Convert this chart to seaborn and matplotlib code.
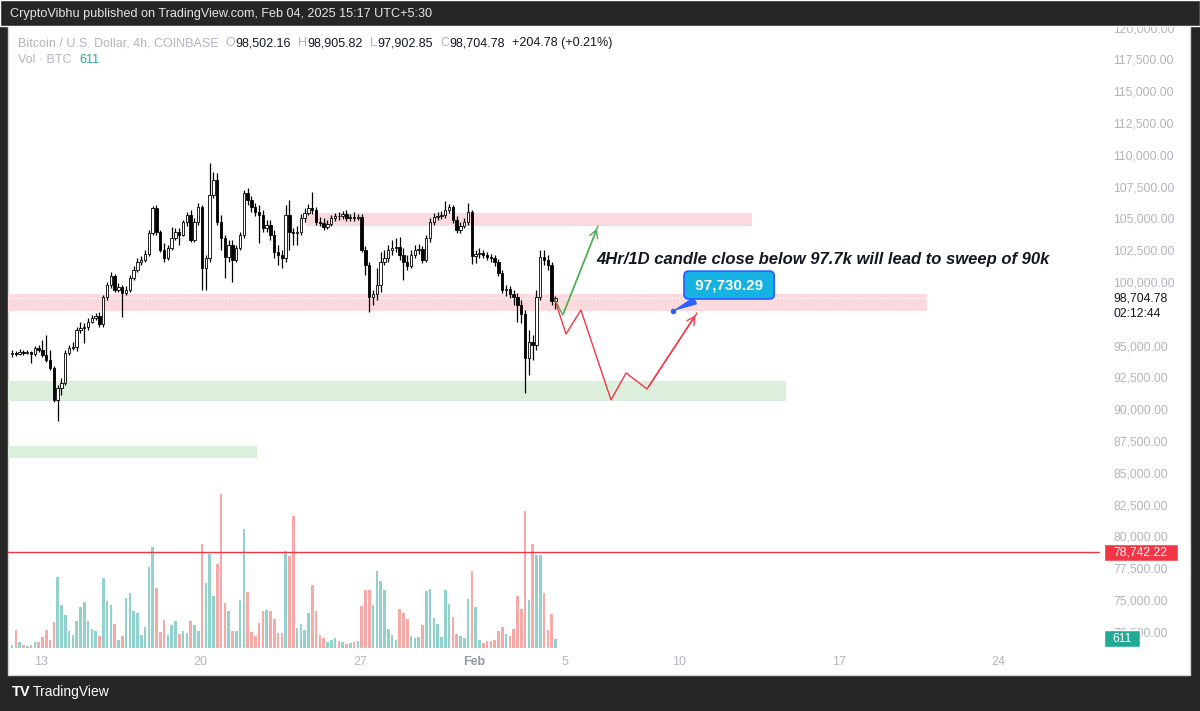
import numpy as np
import pandas as pd
import matplotlib
matplotlib.use("Agg")
import matplotlib.pyplot as plt
import matplotlib.dates as mdates
from matplotlib.patches import Rectangle
from matplotlib.ticker import FixedLocator, FuncFormatter
import seaborn as sns

# BTC/USD 4h candles on Coinbase, times shown in UTC+5:30
first_time = "2025-01-11 17:30"
first_open = 94340
closes = [
    94420, 94340, 94500, 94420, 94500, 94340, 94810, 94660, 94260, 93870,
    93240, 90730, 91670, 92060, 94420, 94810, 94890, 96230, 96380, 96460,
    96860, 97170, 97330, 96700, 98820, 99760, 100470, 99370, 99610, 99140,
    99370, 100310, 100940, 101570, 101730, 102200, 103850, 105820, 103930, 102520,
    101890, 102670, 103460, 103930, 103690, 104720, 105270, 103300, 104720, 105900,
    101100, 101890, 106840, 108020, 104720, 103460, 101970, 102910, 101730, 102670,
    103690, 106990, 106450, 105900, 105500, 105270, 104240, 104480, 103690, 102360,
    102120, 101890, 105270, 103930, 103850, 103930, 105030, 105420, 105820, 105660,
    104720, 104650, 104320, 104560, 105030, 105190, 105150, 105340, 105030, 105110,
    105030, 105110, 102520, 101340, 98820, 99060, 99760, 101570, 101890, 102520,
    102670, 102750, 102120, 101570, 101260, 102120, 102520, 102590, 101730, 103460,
    104720, 105110, 105190, 105270, 105660, 105900, 104870, 104090, 104400, 104720,
    105500, 102040, 102200, 102280, 102120, 101970, 101890, 101570, 100710, 99370,
    99450, 99060, 98820, 98190, 97480, 94030, 95280, 95050, 98820, 101970,
    101730, 101340, 98502.16, 98704.78]
highs = [
    94660, 94580, 94730, 94660, 94660, 94580, 94970, 95050, 95440, 95830,
    94660, 93400, 91900, 92450, 94660, 95050, 95280, 96460, 96860, 96780,
    97170, 97410, 97560, 97640, 98980, 100000, 100790, 100630, 99920, 99760,
    99690, 100550, 101260, 101890, 102040, 102520, 104090, 106000, 106050, 104090,
    103070, 102910, 104320, 104240, 104240, 104870, 105500, 105660, 105030, 106210,
    106050, 102120, 109350, 108650, 108570, 105270, 103690, 103300, 103300, 102910,
    103930, 107230, 107390, 106760, 106210, 106050, 105660, 104870, 104870, 104090,
    102910, 102520, 106050, 106450, 104240, 104400, 105340, 105820, 106130, 107070,
    105900, 105110, 105030, 104870, 105270, 105420, 105500, 105580, 105660, 105340,
    105500, 105340, 105340, 102830, 101570, 99370, 101100, 102360, 102520, 102910,
    103300, 103460, 103540, 102670, 102120, 102520, 102910, 102990, 102830, 103690,
    105030, 105420, 105500, 105580, 106370, 106130, 106050, 105190, 104720, 105030,
    106210, 105660, 102520, 102670, 102520, 102360, 102200, 102120, 101810, 100940,
    99760, 99690, 99370, 99140, 98590, 97800, 96230, 95830, 99370, 102520,
    102520, 102120, 101570, 98905.82]
lows = [
    94110, 94180, 94260, 94260, 94340, 93630, 94180, 94500, 94110, 93710,
    93080, 90570, 89100, 91120, 91900, 94260, 94660, 94580, 95990, 95210,
    96230, 96780, 97010, 96460, 96460, 98590, 99530, 99210, 99210, 97250,
    98980, 99210, 100160, 100790, 101340, 101570, 102040, 103690, 103690, 102360,
    101570, 101730, 102520, 103300, 102910, 103620, 104400, 103140, 103140, 104480,
    99370, 99370, 101570, 106600, 104480, 102520, 100310, 101570, 100000, 101570,
    102520, 103460, 106050, 105500, 105190, 103070, 103930, 103930, 103300, 101890,
    101340, 101100, 101570, 102520, 102910, 102910, 103690, 104720, 105270, 105340,
    104480, 104400, 104090, 104170, 104400, 104790, 104870, 104950, 104790, 104790,
    104790, 104870, 102360, 100550, 97640, 98190, 98590, 99210, 101340, 101570,
    102120, 102360, 101730, 100160, 100940, 101100, 101890, 102200, 101490, 101570,
    103140, 104480, 104870, 104950, 105030, 105420, 104640, 103850, 103850, 104240,
    104480, 101410, 101490, 101890, 101890, 101730, 101570, 101260, 100470, 99140,
    98900, 98740, 98190, 96860, 96780, 91280, 92690, 93870, 94660, 98590,
    101340, 100940, 98190, 97902.85]
volumes = [
    220, 1210, 396, 220, 110, 220, 374, 396, 704, 1188,
    550, 1716, 4686, 2816, 2200, 1144, 836, 1760, 2728, 3036,
    1804, 1254, 1100, 770, 4620, 3124, 2860, 1584, 550, 814,
    3300, 3630, 2420, 2310, 880, 1386, 5324, 6644, 3960, 1034,
    1870, 836, 1496, 1782, 924, 1144, 968, 1804, 1496, 1100,
    6864, 4290, 6204, 3432, 5566, 10164, 2948, 2442, 1100, 1144,
    3146, 7832, 3696, 1056, 770, 1628, 2464, 2486, 2420, 1892,
    1012, 1012, 6424, 6094, 8734, 1342, 1584, 1166, 2288, 4180,
    2420, 836, 638, 396, 506, 638, 440, 374, 286, 308,
    374, 484, 2794, 3850, 3850, 2816, 5060, 4444, 3806, 1276,
    880, 550, 2574, 2332, 1914, 814, 682, 748, 1540, 3784,
    3916, 1958, 1606, 748, 3850, 2904, 2046, 946, 770, 660,
    3234, 5060, 2728, 550, 308, 440, 440, 506, 1100, 1364,
    924, 770, 1254, 3432, 2574, 9020, 3146, 6864, 6160, 6160,
    3630, 1210, 2244, 611]

last_price = 98704.78
alert_price = 78742.22

# right price scale and time scale
price_ticks = [72500, 75000, 77500, 80000, 82500, 85000, 87500, 90000, 92500, 95000,
               100000, 102500, 105000, 107500, 110000, 112500, 115000, 117500, 120000]
date_ticks = ["2025-01-13", "2025-01-20", "2025-01-27", "2025-02-01", "2025-02-05",
              "2025-02-10", "2025-02-17", "2025-02-24"]
date_labels = ["13", "20", "27", "Feb", "5", "10", "17", "24"]

# zones drawn on the chart
zone_start = ["2025-01-24 14:00", "2025-01-10", "2025-01-10", "2025-01-10"]
zone_end = ["2025-02-13 04:00", "2025-02-20 20:30", "2025-02-14 16:30", "2025-01-22 11:00"]
zone_low = [104400, 97730, 90650, 86170]
zone_high = [105420, 99060, 92220, 87110]
zone_color = ["#fcd9dc", "#fcd9dc", "#dcefdd", "#dcefdd"]

# projected paths
bull_time = ["2025-02-04 13:00", "2025-02-04 21:20", "2025-02-06 10:20"]
bull_price = [98590, 97410, 104400]
bear_time = ["2025-02-04 13:00", "2025-02-05 00:40", "2025-02-05 16:20", "2025-02-07 00:00",
             "2025-02-07 15:50", "2025-02-08 13:55", "2025-02-10 18:30"]
bear_price = [98590, 95910, 97800, 90730, 92850, 91590, 97560]

note_text = "4Hr/1D candle close below 97.7k will lead to sweep of 90k"
note_time = "2025-02-06 08:10"
note_price = 101730
callout_text = "97,730.29"
callout_point = ("2025-02-09 17:15", 97730.29)
callout_box = ("2025-02-12 04:20", 99760)

W, H = 1200, 711
sns.set_style("white")
plt.rcParams["font.family"] = ["Liberation Sans", "DejaVu Sans"]

fig = plt.figure(figsize=(W / 100, H / 100), dpi=100, facecolor="#262626")


def fbox(x, y, w, h):
    # rectangle in figure pixels, y from the top
    return (x / W, 1 - (y + h) / H), w / W, h / H


xy, w, h = fbox(8, 26, 1182, 649)
fig.add_artist(Rectangle(xy, w, h, transform=fig.transFigure, facecolor="white",
                         edgecolor="#d6d6d6", lw=1, zorder=-2))

ax = fig.add_axes([8 / W, 1 - 648 / H, 1092 / W, 622 / H])
ax2 = ax.twinx()
ax.set_zorder(ax2.get_zorder() + 1)
ax.patch.set_visible(False)
ax2.patch.set_visible(False)

df = pd.DataFrame({
    "time": pd.date_range(first_time, periods=len(closes), freq="4h"),
    "close": closes, "high": highs, "low": lows, "volume": volumes,
})
df["open"] = [first_open] + closes[:-1]
df["t"] = mdates.date2num(df["time"])
df["dir"] = np.where(df["close"] >= df["open"], "up", "down")
vol_colors = {"up": "#92d2cc", "down": "#f7a9a7"}

# volume
ax2.bar(df["t"], df["volume"], width=0.115, color=df["dir"].map(vol_colors), linewidth=0)
ax2.set_ylim(0, 41050)

# zones
for s, e, lo, hi, c in zip(zone_start, zone_end, zone_low, zone_high, zone_color):
    x0 = mdates.date2num(pd.Timestamp(s))
    x1 = mdates.date2num(pd.Timestamp(e))
    ax.add_patch(Rectangle((x0, lo), x1 - x0, hi - lo, facecolor=c, edgecolor="none", zorder=1))

ax.axhline(last_price, color="white", lw=1, ls=(0, (1, 1.5)), zorder=2)

# candles
ax.vlines(df["t"], df["low"], df["high"], color="black", lw=0.9, zorder=3)
body_lo = np.minimum(df["open"], df["close"])
body_h = np.maximum(np.abs(df["close"] - df["open"]), 50)
face = np.where(df["dir"] == "up", "white", "black")
ax.bar(df["t"], body_h, bottom=body_lo, width=0.11, color=face, edgecolor="black",
       linewidth=0.6, zorder=4)

# projections
green, red = "#4caf50", "#f23645"
bt = mdates.date2num(pd.to_datetime(bull_time))
rt = mdates.date2num(pd.to_datetime(bear_time))
sns.lineplot(x=bt, y=bull_price, sort=False, color=green, lw=1, ax=ax, zorder=5)
sns.lineplot(x=rt, y=bear_price, sort=False, color=red, lw=1, ax=ax, zorder=5)
ax.annotate("", xy=(bt[-1], bull_price[-1]), xytext=(bt[-2], bull_price[-2]),
            arrowprops=dict(arrowstyle="->,head_length=0.55,head_width=0.3", color=green, lw=1),
            zorder=5)
ax.annotate("", xy=(rt[-1], bear_price[-1]), xytext=(rt[-2], bear_price[-2]),
            arrowprops=dict(arrowstyle="->,head_length=0.55,head_width=0.3", color=red, lw=1),
            zorder=5)

ax.axhline(alert_price, color=red, lw=1, zorder=5)

ax.text(mdates.date2num(pd.Timestamp(note_time)), note_price, note_text, fontsize=12,
        fontweight="bold", fontstyle="italic", color="#131722", va="center", zorder=6)

cp = (mdates.date2num(pd.Timestamp(callout_point[0])), callout_point[1])
cb = (mdates.date2num(pd.Timestamp(callout_box[0])), callout_box[1])
ax.annotate(" " + callout_text + " ", xy=cp, xytext=cb, ha="center", va="center",
            color="white", fontsize=11, fontweight="bold", zorder=7,
            bbox=dict(boxstyle="round,pad=0.45,rounding_size=0.3", fc="#16b2e2", ec="#2962ff", lw=1.3),
            arrowprops=dict(arrowstyle="wedge,tail_width=0.45", fc="#2962ff", ec="#2962ff", lw=0.8))
ax.plot([cp[0]], [cp[1]], marker="o", ms=3, color="#2962ff", zorder=7)

# axes
base = mdates.date2num(pd.Timestamp("2025-01-13"))
ax.set_xlim(base - 1.447, base + 46.447)
ax.set_ylim(71232, 120122)
ax.yaxis.tick_right()
ax.yaxis.set_major_locator(FixedLocator(price_ticks))
ax.yaxis.set_major_formatter(FuncFormatter(lambda v, p: f"{v:,.2f}"))
ax.tick_params(axis="y", length=0, pad=9.5, labelsize=8.7, labelcolor="#b2b5be")
ax.set_xticks(mdates.date2num(pd.to_datetime(date_ticks)))
ax.set_xticklabels(date_labels)
ax.tick_params(axis="x", length=0, pad=6, labelsize=9, labelcolor="#b2b5be")
for lab in ax.get_xticklabels():
    if lab.get_text() == "Feb":
        lab.set_fontweight("bold")
        lab.set_color("#9598a1")
ax2.set_yticks([])
ax2.tick_params(axis="x", length=0, labelbottom=False, labeltop=False)
for a in (ax, ax2):
    for sp in a.spines.values():
        sp.set_visible(False)

# price scale labels
ax.annotate(f"{last_price:,.2f}", xy=(1, last_price), xycoords=("axes fraction", "data"),
            xytext=(9.5, 0), textcoords="offset points", va="center", fontsize=8.7, color="#131722")
ax.annotate("02:12:44", xy=(1, last_price), xycoords=("axes fraction", "data"),
            xytext=(9.5, -11), textcoords="offset points", va="center", fontsize=8.7, color="#131722")

y_alert = H - ax.transData.transform((0, alert_price))[1]
xy, w, h = fbox(1104, y_alert - 8.5, 74, 17)
fig.add_artist(Rectangle(xy, w, h, transform=fig.transFigure, facecolor=red, zorder=6))
fig.text(1113 / W, 1 - y_alert / H, f"{alert_price:,.2f}", color="white", fontsize=8.7,
         va="center", zorder=7)

y_vol = H - ax2.transData.transform((0, volumes[-1]))[1]
xy, w, h = fbox(1104, y_vol - 8.5, 36, 17)
fig.add_artist(Rectangle(xy, w, h, transform=fig.transFigure, facecolor="#22ab94", zorder=6))
fig.text(1122 / W, 1 - y_vol / H, f"{volumes[-1]}", color="white", fontsize=8.7,
         va="center", ha="center", zorder=7)

# header / legend / footer
xy, w, h = fbox(0, 0, W, 26)
fig.add_artist(Rectangle(xy, w, h, transform=fig.transFigure, facecolor="#262626", zorder=5))
fig.text(10 / W, 1 - 14 / H, "CryptoVibhu published on TradingView.com, Feb 04, 2025 15:17 UTC+5:30",
         color="#e6e6e6", fontsize=9.1, va="center", zorder=6)

gray, dark, teal = "#b2b5be", "#131722", "#22ab94"
renderer = fig.canvas.get_renderer()


def text_row(x, y, parts):
    # draw coloured pieces one after another; gap is the space after each piece, in px
    for s, c, gap in parts:
        t = fig.text(x / W, 1 - y / H, s, color=c, fontsize=9, va="center", zorder=6)
        x += t.get_window_extent(renderer).width + gap


text_row(18, 43, [("Bitcoin / U.S. Dollar, 4h, COINBASE", gray, 7), ("O", gray, 0.5),
                  ("98,502.16", dark, 7), ("H", gray, 0.5), ("98,905.82", dark, 7),
                  ("L", gray, 0.5), ("97,902.85", dark, 7), ("C", gray, 0.5),
                  ("98,704.78", dark, 7), ("+204.78 (+0.21%)", dark, 0)])
text_row(18, 60, [("Vol · BTC", gray, 8), ("611", teal, 0)])

fig.text(12 / W, 1 - 692 / H, "TV", color="white", fontsize=10.5, fontweight="bold",
         va="center", zorder=6)
fig.text(33 / W, 1 - 692 / H, "TradingView", color="white", fontsize=10, va="center", zorder=6)

fig.savefig("out.png", dpi=100, facecolor=fig.get_facecolor())
